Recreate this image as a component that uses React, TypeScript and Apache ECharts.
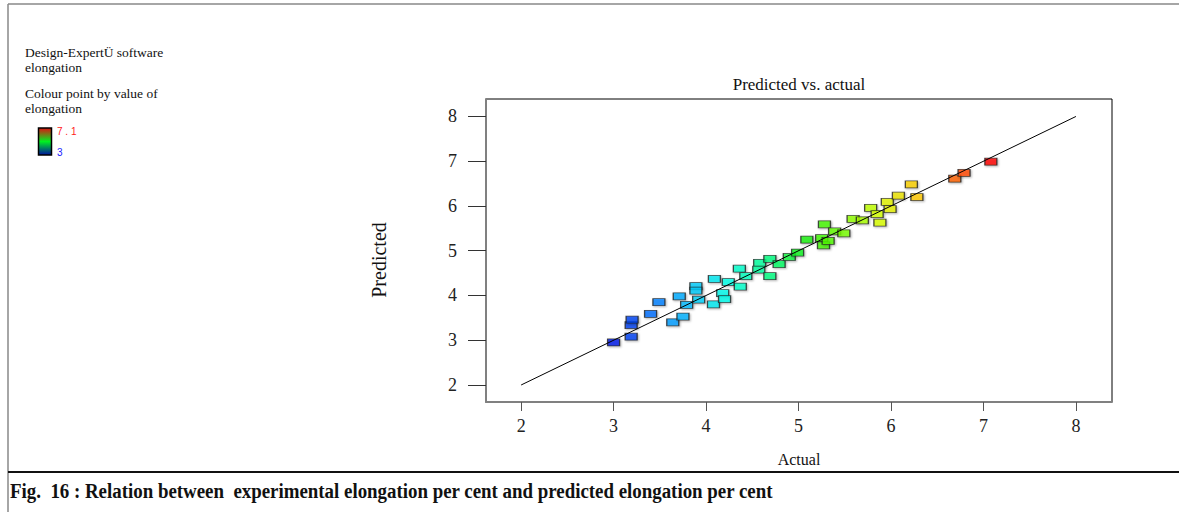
import React, { useEffect, useRef } from "react";
import * as echarts from "echarts";

// Experimental (actual) and model-predicted elongation, per cent
const actual = [
  3.0, 3.19, 3.19, 3.2, 3.4, 3.49, 3.64, 3.75, 3.71, 3.79, 3.92, 3.89, 3.89, 4.08, 4.18, 4.2,
  4.09, 4.24, 4.37, 4.36, 4.43, 4.58, 4.57, 4.69, 4.69, 4.79, 4.9, 4.99, 5.09, 5.25, 5.27, 5.32,
  5.28, 5.39, 5.49, 5.59, 5.69, 5.78, 5.85, 5.88, 5.96, 5.99, 6.08, 6.22, 6.28, 6.69, 6.79, 7.08,
];
const predicted = [
  2.95, 3.08, 3.34, 3.46, 3.59, 3.85, 3.4, 3.53, 3.98, 3.79, 3.91, 4.21, 4.11, 3.8, 4.05, 3.92,
  4.37, 4.3, 4.2, 4.6, 4.43, 4.73, 4.58, 4.43, 4.82, 4.7, 4.86, 4.96, 5.25, 5.28, 5.12, 5.22,
  5.59, 5.43, 5.39, 5.71, 5.68, 5.96, 5.82, 5.63, 6.09, 5.93, 6.23, 6.48, 6.2, 6.61, 6.74, 6.99,
];

// Ends of the 1:1 reference line
const fitLine = [2, 8];
const tickValues = [2, 3, 4, 5, 6, 7, 8];
const axisMin = 1.62;
const axisMax = 8.39;
const colourMin = 3;
const colourMax = 7.1;
const colourRamp = [
  "#0018e8", "#0070ff", "#00c0ff", "#00ffe8", "#00ff90", "#10f010",
  "#70ff00", "#d8ff00", "#ffc800", "#ff6000", "#ff0000",
];

const serif = "'Liberation Serif', 'Times New Roman', serif";

export default function App() {
  const ref = useRef<HTMLDivElement>(null);

  useEffect(() => {
    if (!ref.current) return;
    const chart = echarts.init(ref.current, undefined, { renderer: "svg" });

    const points = actual.map((a, i) => [a, predicted[i]]);

    const legendText = (text: string, y: number) => ({
      type: "text",
      left: 25,
      top: y,
      style: { text, font: `13.5px ${serif}`, fill: "#111" },
    });

    chart.setOption({
      animation: false,
      backgroundColor: "#fff",
      grid: {
        show: true,
        left: 486,
        top: 99,
        width: 626,
        height: 303,
        borderColor: "#000",
        borderWidth: 1,
        containLabel: false,
      },
      xAxis: {
        type: "value",
        min: axisMin,
        max: axisMax,
        splitLine: { show: false },
        axisLine: { show: true, lineStyle: { color: "#808080", width: 2 } },
        axisTick: { show: true, customValues: tickValues, length: 9, lineStyle: { color: "#555" } },
        axisLabel: {
          customValues: tickValues,
          margin: 15,
          fontSize: 18,
          fontFamily: serif,
          color: "#222",
        },
      },
      yAxis: {
        type: "value",
        min: axisMin,
        max: axisMax,
        splitLine: { show: false },
        axisLine: { show: true, lineStyle: { color: "#808080", width: 2 } },
        axisTick: { show: true, customValues: tickValues, length: 18, lineStyle: { color: "#333" } },
        axisLabel: {
          customValues: tickValues,
          margin: 29,
          fontSize: 18,
          fontFamily: serif,
          color: "#222",
        },
      },
      visualMap: {
        type: "continuous",
        show: false,
        seriesIndex: 0,
        dimension: 0,
        min: colourMin,
        max: colourMax,
        inRange: { color: colourRamp },
      },
      series: [
        {
          type: "scatter",
          data: points,
          symbol: "rect",
          symbolSize: [12, 7],
          itemStyle: {
            borderColor: "#222",
            borderWidth: 1,
            shadowBlur: 2,
            shadowColor: "rgba(0,0,0,0.35)",
            shadowOffsetX: 1,
            shadowOffsetY: 1,
          },
          z: 2,
        },
        {
          type: "line",
          data: fitLine.map((v) => [v, v]),
          symbol: "none",
          silent: true,
          lineStyle: { color: "#000", width: 1 },
          z: 3,
        },
      ],
      graphic: [
        // page frame
        { type: "line", shape: { x1: 8, y1: 4, x2: 1179, y2: 4 }, style: { stroke: "#888", lineWidth: 1.5 } },
        { type: "line", shape: { x1: 8, y1: 4, x2: 8, y2: 512 }, style: { stroke: "#888", lineWidth: 1.5 } },
        { type: "line", shape: { x1: 8, y1: 472, x2: 1179, y2: 472 }, style: { stroke: "#111", lineWidth: 2 } },
        // software note and colour key
        legendText("Design-ExpertÜ software", 45),
        legendText("elongation", 60),
        legendText("Colour point by value of", 86),
        legendText("elongation", 101),
        {
          type: "rect",
          shape: { x: 38.5, y: 128, width: 13, height: 27 },
          style: {
            fill: new echarts.graphic.LinearGradient(0, 0, 0, 1, [
              { offset: 0, color: "#e01010" },
              { offset: 0.5, color: "#00f020" },
              { offset: 1, color: "#0010a0" },
            ]),
            stroke: "#000",
            lineWidth: 1.5,
          },
        },
        {
          type: "text",
          left: 57,
          top: 126,
          style: { text: "7 . 1", font: "10px 'Liberation Sans', Arial, sans-serif", fill: "#ff2020" },
        },
        {
          type: "text",
          left: 57,
          top: 147,
          style: { text: "3", font: "10px 'Liberation Sans', Arial, sans-serif", fill: "#2020ff" },
        },
        // titles
        {
          type: "text",
          x: 799,
          y: 84,
          style: {
            text: "Predicted vs. actual",
            font: `17px ${serif}`,
            fill: "#111",
            align: "center",
            verticalAlign: "middle",
          },
        },
        {
          type: "text",
          x: 799,
          y: 459,
          style: { text: "Actual", font: `16px ${serif}`, fill: "#111", align: "center", verticalAlign: "middle" },
        },
        {
          type: "text",
          x: 379,
          y: 260,
          rotation: Math.PI / 2,
          style: { text: "Predicted", font: `20px ${serif}`, fill: "#111", align: "center", verticalAlign: "middle" },
        },
        {
          type: "text",
          x: 10,
          y: 491,
          scaleX: 0.945,
          style: {
            text: "Fig.  16 : Relation between  experimental elongation per cent and predicted elongation per cent",
            font: `bold 20px ${serif}`,
            fill: "#111",
            align: "left",
            verticalAlign: "middle",
          },
        },
      ],
    });

    return () => chart.dispose();
  }, []);

  return (
    <div
      ref={ref}
      style={{ position: "fixed", left: 0, top: 0, width: 1179, height: 512, background: "#fff" }}
    />
  );
}
